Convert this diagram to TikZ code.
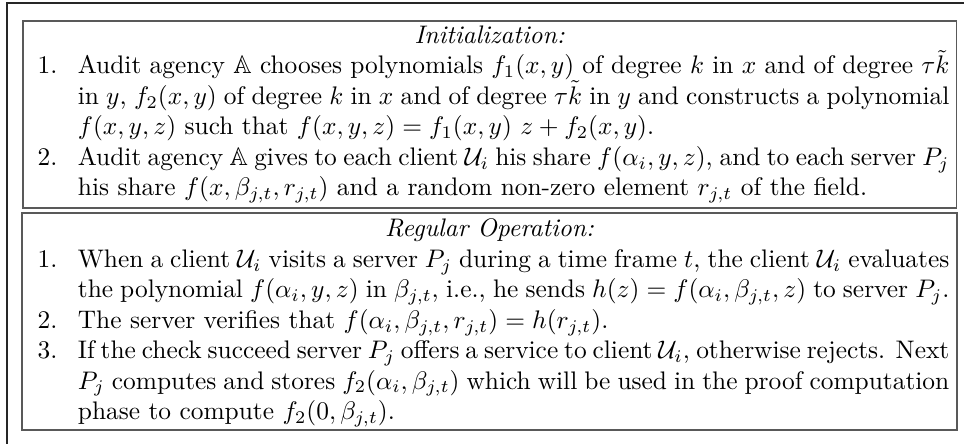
\documentclass[tikz,border=0pt]{standalone}
\usepackage{amssymb}
\newcommand\listentry[2]{\par\noindent\hangindent=18.9pt\hangafter=1\makebox[18.9pt][l]{\hspace{3.1pt}#1}#2\par}
\tikzset{
  panel/.style={draw=black!65, line width=0.6pt, anchor=north west, text width=362pt,
    align=justify, inner xsep=2.8pt, inner ysep=2pt},
  panelline/.style={draw=black!65, line width=0.6pt},
  frameline/.style={draw=black!85, line width=0.5pt}
}
\begin{document}
\begin{tikzpicture}[x=0.3937pt,y=-0.3937pt]
\useasboundingbox (0,0) rectangle (964,444);
\coordinate (fbl) at (7,444);
\coordinate (ftl) at (7,3);
\coordinate (ftr) at (964,3);
\draw[frameline] (fbl) -- (ftl) -- (ftr);
\node[panel] (init) at (22,20) {%
{\centering\emph{Initialization:}\par}
\listentry{1.}{Audit agency $\mathbb{A}$ chooses polynomials $f_1(x,y)$ of degree $k$ in $x$ and of degree $\tau\tilde{k}$ \linebreak in $y$, $f_2(x,y)$ of degree $k$ in $x$ and of degree $\tau\tilde{k}$ in $y$ and constructs a polynomial \linebreak $f(x,y,z)$ such that $f(x,y,z)=f_1(x,y)\ z+f_2(x,y)$.}
\listentry{2.}{Audit agency $\mathbb{A}$ gives to each client $\mathcal{U}_i$ his share $f(\alpha_i,y,z)$, and to each server $P_j$ \linebreak his share $f(x,\beta_{j,t},r_{j,t})$ and a random non-zero element $r_{j,t}$ of the field.}
};
\node[panel, draw=none] (oper) at ([yshift=-1.6pt]init.south west) {%
{\centering\emph{Regular Operation:}\par}
\listentry{1.}{When a client $\mathcal{U}_i$ visits a server $P_j$ during a time frame $t$, the client $\mathcal{U}_i$ evaluates \linebreak the polynomial $f(\alpha_i,y,z)$ in $\beta_{j,t}$, i.e., he sends $h(z)=f(\alpha_i,\beta_{j,t},z)$ to server $P_j$.}
\listentry{2.}{The server verifies that $f(\alpha_i,\beta_{j,t},r_{j,t})=h(r_{j,t})$.}
\listentry{3.}{If the check succeed server $P_j$ offers a service to client $\mathcal{U}_i$, otherwise rejects. Next \linebreak $P_j$ computes and stores $f_2(\alpha_i,\beta_{j,t})$ which will be used in the proof computation \linebreak phase to compute $f_2(0,\beta_{j,t})$.}
};
\coordinate (operbottom) at (957,430);
\draw[panelline] (oper.north west) rectangle (oper.east |- operbottom);
\end{tikzpicture}
\end{document}
